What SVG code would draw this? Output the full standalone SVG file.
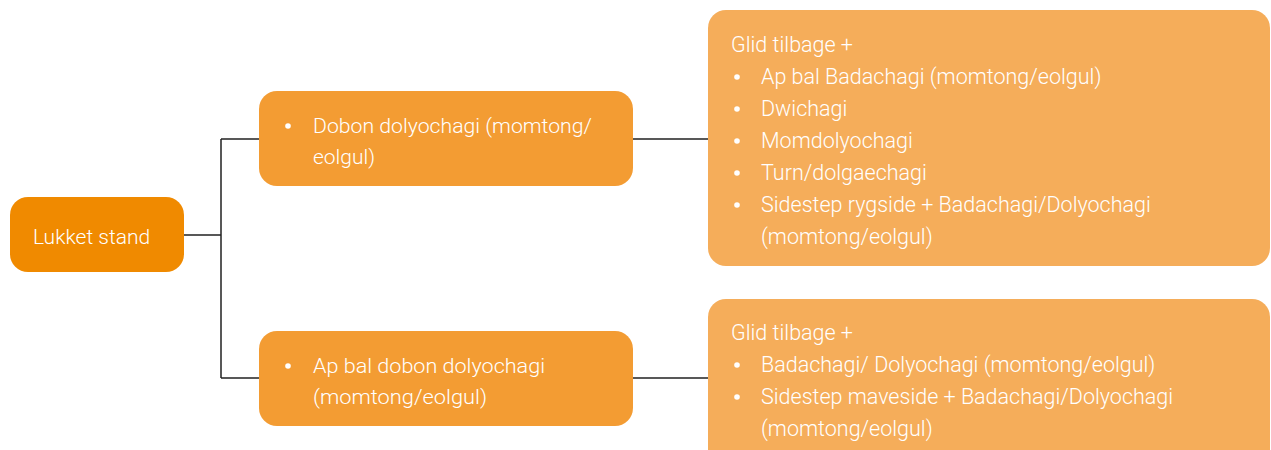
<svg xmlns="http://www.w3.org/2000/svg" width="1271" height="450" viewBox="0 0 1271 450">
<style>
text{font-family:Roboto,"Open Sans","Liberation Sans",sans-serif;font-weight:300;font-size:21px;fill:#ffffff}
.big{font-size:21.5px}
.root{fill:#F08A00}
.mid{fill:#F39C33}
.right{fill:#F5AD5A}
.dot{fill:#ffffff}
.conn{stroke:#222;stroke-width:1.5;fill:none}
</style>
<rect width="1271" height="450" fill="#ffffff"/>
<g id="connectors">
<path class="conn" d="M184,235 H221 M221,139 V378 M221,139 H260 M221,378 H260 M633,139 H709 M633,378 H709"/>
</g>
<g id="root">
<rect class="root" x="10" y="197" width="174" height="75" rx="18"/>
<text x="33" y="244">Lukket stand</text>
</g>
<g id="mid1">
<rect class="mid" x="259" y="91" width="374" height="95" rx="18"/>
<circle class="dot" cx="288" cy="126" r="2.8"/>
<text x="313" y="133" textLength="279" lengthAdjust="spacingAndGlyphs">Dobon dolyochagi (momtong/</text>
<text x="313" y="164" textLength="62" lengthAdjust="spacingAndGlyphs">eolgul)</text>
</g>
<g id="mid2">
<rect class="mid" x="259" y="331" width="374" height="95" rx="18"/>
<circle class="dot" cx="288" cy="366" r="2.8"/>
<text x="313" y="373" textLength="232" lengthAdjust="spacingAndGlyphs">Ap bal dobon dolyochagi</text>
<text x="313" y="404" textLength="174" lengthAdjust="spacingAndGlyphs">(momtong/eolgul)</text>
</g>
<g id="right1">
<rect class="right" x="708" y="10" width="562" height="256" rx="18"/>
<text class="big" x="731" y="52">Glid tilbage +</text>
<circle class="dot" cx="737" cy="77" r="2.8"/><text class="big" x="761" y="84">Ap bal Badachagi (momtong/eolgul)</text>
<circle class="dot" cx="737" cy="109" r="2.8"/><text class="big" x="761" y="116">Dwichagi</text>
<circle class="dot" cx="737" cy="141" r="2.8"/><text class="big" x="761" y="148">Momdolyochagi</text>
<circle class="dot" cx="737" cy="173" r="2.8"/><text class="big" x="761" y="180">Turn/dolgaechagi</text>
<circle class="dot" cx="737" cy="205" r="2.8"/><text class="big" x="761" y="212">Sidestep rygside + Badachagi/Dolyochagi</text>
<text class="big" x="761" y="244">(momtong/eolgul)</text>
</g>
<g id="right2">
<rect class="right" x="708" y="299" width="562" height="180" rx="18"/>
<text class="big" x="731" y="340">Glid tilbage +</text>
<circle class="dot" cx="737" cy="365" r="2.8"/><text class="big" x="761" y="372">Badachagi/ Dolyochagi (momtong/eolgul)</text>
<circle class="dot" cx="737" cy="397" r="2.8"/><text class="big" x="761" y="404">Sidestep maveside + Badachagi/Dolyochagi</text>
<text class="big" x="761" y="436">(momtong/eolgul)</text>
</g>
</svg>
